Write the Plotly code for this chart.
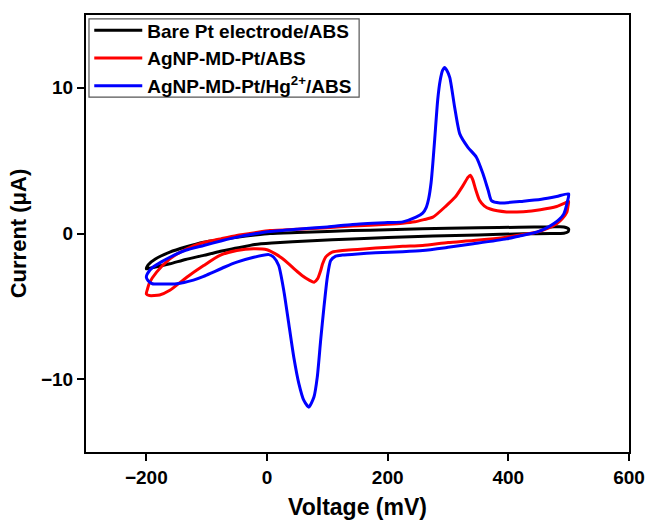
import plotly.graph_objects as go

# Bare Pt electrode/ABS (closed CV loop: forward branch then reverse branch)
bare_x = [-200, -197, -185, -161, -135, -105, -75, -50, -20, 5, 50, 100, 141, 200, 258, 300, 350, 417, 470, 492, 500,
          499, 492, 470, 425, 350, 275, 200, 141, 75, 8, -20, -50, -80, -105, -135, -161, -185, -197, -200]
bare_y = [-2.42, -2.15, -1.75, -1.28, -0.93, -0.6, -0.4, -0.25, -0.1, 0.0, 0.07, 0.14, 0.2, 0.26, 0.32, 0.36, 0.39, 0.43, 0.45, 0.45, 0.3,
          0.12, 0.02, 0.0, -0.02, -0.1, -0.18, -0.27, -0.37, -0.5, -0.65, -0.75, -1.0, -1.25, -1.5, -1.78, -2.08, -2.3, -2.4, -2.42]

# AgNP-MD-Pt/ABS
ag_x = [-200, -198, -195, -183, -161, -133, -105, -75, -50, -20, 5, 50, 100, 142, 200, 225, 245, 260, 275, 297, 312, 325, 333, 337,
        341, 346, 352, 360, 370, 397, 425, 453, 480, 497, 500,
        499, 497, 490, 480, 465, 447, 420, 397, 342, 300, 258, 225, 180, 150, 125, 108, 100, 97, 92, 89, 84, 78, 70, 58, 47,
        36, 25, 14, 0, -22, -50, -78, -105, -133, -161, -178, -195, -200]
ag_y = [-4.15, -3.8, -3.4, -2.65, -1.74, -1.05, -0.62, -0.35, -0.14, 0.05, 0.2, 0.3, 0.4, 0.52, 0.63, 0.7, 0.8, 0.95, 1.12, 1.9, 2.5, 3.3, 3.85, 4.0,
        3.7, 3.0, 2.3, 1.9, 1.68, 1.48, 1.5, 1.63, 1.85, 2.15, 2.2,
        1.9, 1.46, 1.05, 0.67, 0.35, 0.09, -0.1, -0.25, -0.48, -0.62, -0.82, -0.88, -1.0, -1.1, -1.17, -1.28, -1.5, -1.63, -2.1, -2.54, -3.1, -3.34, -3.2, -2.88, -2.5,
        -2.08, -1.7, -1.4, -1.12, -1.05, -1.17, -1.5, -2.2, -3.0, -3.9, -4.22, -4.26, -4.15]

# AgNP-MD-Pt/Hg2+/ABS
hg_x = [-200, -198, -190, -175, -161, -135, -105, -75, -50, -20, 5, 50, 100, 142, 200, 225, 247, 258, 264, 268, 272, 275, 278, 283, 287, 291, 294.5,
        298, 303, 311, 319.5, 333, 347, 358, 366.7, 372, 386, 425, 455, 480, 500,
        498, 492, 484, 475, 462, 447, 420, 397, 342, 300, 258, 225, 180, 150, 125, 113.9, 105.6, 100, 94.4, 88.9, 83.3, 77.8, 69.4, 61.1, 52.8,
        44.4, 36.1, 27.8, 19.4, 11.1, 3, -22, -50, -70, -89, -105, -122, -150, -175, -190, -197, -200]
hg_y = [-3.0, -2.75, -2.35, -1.95, -1.63, -1.15, -0.82, -0.5, -0.25, -0.02, 0.14, 0.3, 0.45, 0.62, 0.75, 0.8, 1.12, 1.4, 1.8, 2.4, 3.5, 4.9, 6.5, 9.2, 10.5, 11.2, 11.4,
        11.2, 10.7, 8.67, 6.84, 5.92, 5.24, 4.1, 2.95, 2.26, 2.1, 2.22, 2.35, 2.54, 2.72,
        2.2, 1.35, 0.95, 0.67, 0.35, 0.09, -0.15, -0.37, -0.71, -0.95, -1.17, -1.25, -1.32, -1.4, -1.48, -1.55, -1.85, -3.0, -5.06, -7.34, -9.86, -11.23, -11.92, -11.46, -10.3,
        -8.49, -6.2, -3.91, -2.2, -1.63, -1.45, -1.63, -1.97, -2.3, -2.65, -2.95, -3.2, -3.45, -3.47, -3.45, -3.25, -3.0]

series_names = ["Bare Pt electrode/ABS", "AgNP-MD-Pt/ABS", "AgNP-MD-Pt/Hg<sup>2+</sup>/ABS"]
series_x = [bare_x, ag_x, hg_x]
series_y = [bare_y, ag_y, hg_y]
colors = ["#000000", "#ff0000", "#0000ff"]

x_ticks = [-200, 0, 200, 400, 600]
y_ticks = [-10, 0, 10]

FONT = "Liberation Sans, Arial, sans-serif"

fig = go.Figure()
for name, xs, ys, c in zip(series_names, series_x, series_y, colors):
    fig.add_trace(go.Scatter(x=xs, y=ys, mode="lines", name=name,
                             line=dict(color=c, width=3, shape="spline", smoothing=0.6)))

axis_common = dict(showline=True, linecolor="black", linewidth=2, mirror=True,
                   ticks="outside", ticklen=7, tickwidth=2, tickcolor="black",
                   showgrid=False, zeroline=False, automargin=False,
                   tickfont=dict(family=FONT, size=19, color="black", weight="bold"))

fig.update_layout(
    width=646, height=520,
    margin=dict(l=86, r=17, t=15, b=68),
    paper_bgcolor="white", plot_bgcolor="white",
    font=dict(family=FONT, color="black"),
    xaxis=dict(range=[-300, 600], tickvals=x_ticks, **axis_common,
               title=dict(text="Voltage (mV)", standoff=16,
                          font=dict(family=FONT, size=23, color="black", weight="bold"))),
    yaxis=dict(range=[-15, 15], tickvals=y_ticks, **axis_common,
               title=dict(text="Current (μA)", standoff=8,
                          font=dict(family=FONT, size=22, color="black", weight="bold"))),
    legend=dict(x=0.006, y=1.008, xanchor="left", yanchor="top",
                bgcolor="rgba(0,0,0,0)", borderwidth=0,
                itemwidth=48,
                font=dict(family=FONT, size=19, color="black", weight="bold")),
    shapes=[dict(type="rect", xref="paper", yref="paper",
                 x0=0.0055, x1=0.503, y0=0.812, y1=0.991,
                 line=dict(color="#555555", width=1.2), fillcolor="rgba(0,0,0,0)", layer="above")],
    showlegend=True,
)

fig.write_html("out.html")
